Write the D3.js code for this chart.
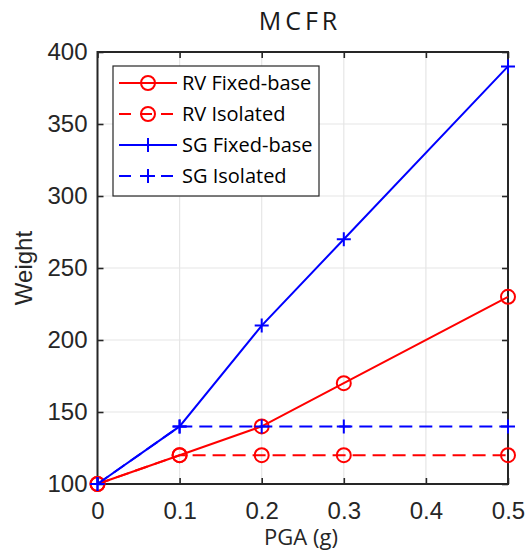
<!DOCTYPE html>
<html>
<head>
<meta charset="utf-8">
<script src="https://cdn.jsdelivr.net/npm/d3@7"></script>
<style>
  html, body { margin: 0; padding: 0; background: #fff; }
  svg { display: block; }
</style>
</head>
<body>
<svg id="chart" width="527" height="560"></svg>
<script>
// PGA levels (g) and weight values per configuration
const pga = [0, 0.1, 0.2, 0.3, 0.5];
const rvFixed = [100, 120, 140, 170, 230];
const rvIsolated = [100, 120, 120, 120, 120];
const sgFixed = [100, 140, 210, 270, 390];
const sgIsolated = [100, 140, 140, 140, 140];
const xTicks = [0, 0.1, 0.2, 0.3, 0.4, 0.5];
const yTicks = [100, 150, 200, 250, 300, 350, 400];

const series = [
  { name: "RV Fixed-base", values: rvFixed, color: "#ff0000", dash: null, marker: "circle" },
  { name: "RV Isolated", values: rvIsolated, color: "#ff0000", dash: "13,7", marker: "circle" },
  { name: "SG Fixed-base", values: sgFixed, color: "#0000ff", dash: null, marker: "plus" },
  { name: "SG Isolated", values: sgIsolated, color: "#0000ff", dash: "13,7", marker: "plus" }
];

const svg = d3.select("#chart");
const plotL = 97.5, plotR = 508, plotT = 52, plotB = 484;

const x = d3.scaleLinear().domain([0, 0.5]).range([plotL, plotR]);
const y = d3.scaleLinear().domain([100, 400]).range([plotB, plotT]);
const axisColor = "#262626";
const tickFont = "'Liberation Sans', Arial, sans-serif";
const labelFont = "'Open Sans', 'Noto Sans', sans-serif";

// grid lines
const grid = svg.append("g");
grid.selectAll(".gx").data(xTicks).join("line")
  .attr("x1", d => x(d)).attr("x2", d => x(d))
  .attr("y1", plotT).attr("y2", plotB)
  .attr("stroke", "#e6e6e6").attr("stroke-width", 1.2);
grid.selectAll(".gy").data(yTicks).join("line")
  .attr("x1", plotL).attr("x2", plotR)
  .attr("y1", d => y(d)).attr("y2", d => y(d))
  .attr("stroke", "#e6e6e6").attr("stroke-width", 1.2);

// axes with inward ticks on all four sides
const tickLen = 6;
const xAxisB = d3.axisBottom(x).tickValues(xTicks).tickSize(-tickLen).tickPadding(18).tickFormat(d3.format("~g"));
const xAxisT = d3.axisTop(x).tickValues(xTicks).tickSize(-tickLen).tickFormat("");
const yAxisL = d3.axisLeft(y).tickValues(yTicks).tickSize(-tickLen).tickPadding(10).tickFormat(d3.format("d"));
const yAxisR = d3.axisRight(y).tickValues(yTicks).tickSize(-tickLen).tickFormat("");

function styleAxis(g) {
  g.select(".domain").remove();
  g.selectAll(".tick line").attr("stroke", axisColor).attr("stroke-width", 1.6);
  g.selectAll(".tick text").attr("fill", axisColor).style("font-family", tickFont).style("font-size", "24px");
}
svg.append("g").attr("transform", `translate(0,${plotB})`).call(xAxisB).call(styleAxis);
svg.append("g").attr("transform", `translate(0,${plotT})`).call(xAxisT).call(styleAxis);
svg.append("g").attr("transform", `translate(${plotL},0)`).call(yAxisL).call(styleAxis);
svg.append("g").attr("transform", `translate(${plotR},0)`).call(yAxisR).call(styleAxis);

// frame
svg.append("rect")
  .attr("x", plotL).attr("y", plotT)
  .attr("width", plotR - plotL).attr("height", plotB - plotT)
  .attr("fill", "none").attr("stroke", axisColor).attr("stroke-width", 2);

// marker drawing helper
function drawMarker(g, cx, cy, s) {
  if (s.marker === "circle") {
    g.append("circle").attr("cx", cx).attr("cy", cy).attr("r", 7)
      .attr("fill", "none").attr("stroke", s.color).attr("stroke-width", 2);
  } else {
    g.append("path").attr("d", `M${cx - 7},${cy}H${cx + 7}M${cx},${cy - 7}V${cy + 7}`)
      .attr("fill", "none").attr("stroke", s.color).attr("stroke-width", 2);
  }
}

const line = d3.line().x((d, i) => x(pga[i])).y(d => y(d));
const plot = svg.append("g");
series.forEach(s => {
  plot.append("path").datum(s.values)
    .attr("d", line)
    .attr("fill", "none").attr("stroke", s.color).attr("stroke-width", 2)
    .attr("stroke-dasharray", s.dash);
  const mg = plot.append("g");
  s.values.forEach((v, i) => drawMarker(mg, x(pga[i]), y(v), s));
});

// title and axis labels
svg.append("text").attr("x", 300).attr("y", 30)
  .attr("text-anchor", "middle").attr("fill", "#1a1a1a")
  .attr("font-family", "'Open Sans', sans-serif").attr("font-size", 25)
  .attr("letter-spacing", 4)
  .text("MCFR");
svg.append("text").attr("x", 301).attr("y", 545)
  .attr("text-anchor", "middle").attr("fill", axisColor)
  .style("font-family", labelFont).style("font-size", "22px")
  .text("PGA (g)");
svg.append("text").attr("transform", `translate(32,${(plotT + plotB) / 2}) rotate(-90)`)
  .attr("text-anchor", "middle").attr("fill", axisColor)
  .style("font-family", tickFont).style("font-size", "24px")
  .text("Weight");

// legend
const lg = svg.append("g");
lg.append("rect").attr("x", 113).attr("y", 66).attr("width", 206).attr("height", 130)
  .attr("fill", "#fff").attr("stroke", axisColor).attr("stroke-width", 1.2);
series.forEach((s, i) => {
  const ly = 83 + i * 31;
  lg.append("line").attr("x1", 119).attr("x2", 177).attr("y1", ly).attr("y2", ly)
    .attr("stroke", s.color).attr("stroke-width", 2)
    .attr("stroke-dasharray", s.dash ? "12,9" : null);
  drawMarker(lg, 148, ly, s);
  lg.append("text").attr("x", 182).attr("y", ly + 7)
    .attr("fill", "#000")
    .style("font-family", labelFont).style("font-size", "20px")
    .text(s.name);
});
</script>
</body>
</html>
